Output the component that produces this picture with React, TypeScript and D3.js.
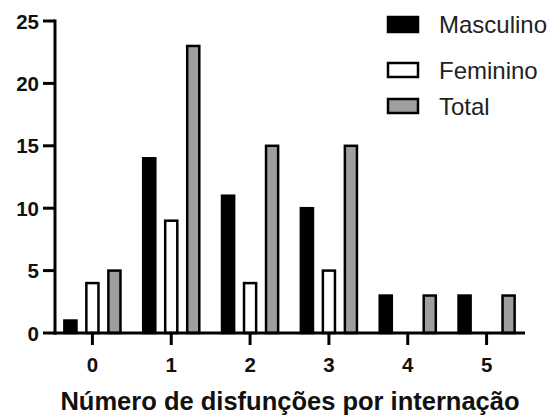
import React from "react";
import * as d3 from "d3";

const categories = ["0", "1", "2", "3", "4", "5"];
const seriesNames = ["Masculino", "Feminino", "Total"];
const masculino = [1, 14, 11, 10, 3, 3];
const feminino = [4, 9, 4, 5, 0, 0];
const total = [5, 23, 15, 15, 3, 3];
const yTicks = [0, 5, 10, 15, 20, 25];
const xTitle = "Número de disfunções por internação";

const fills = ["#000000", "#ffffff", "#9e9e9e"];
const FONT = "'Liberation Sans', Arial, Helvetica, sans-serif";

export default function App() {
  const W = 553;
  const H = 417;
  const axisX = 55;
  const axisEnd = 525;
  const x = d3.scaleBand<string>().domain(categories).range([53, 526]).paddingInner(0).paddingOuter(0);
  const y = d3.scaleLinear().domain([0, 25]).range([333, 21]);
  const seriesData = [masculino, feminino, total];

  const groupHalf = 33;
  const legendRows = [
    { y: 17, h: 15 },
    { y: 63, h: 14 },
    { y: 99, h: 14 },
  ];

  return (
    <svg width={W} height={H} style={{ position: "absolute", left: 0, top: 0, background: "#fff" }}>
      {/* bars */}
      {categories.map((c, ci) => {
        const center = (x(c) as number) + x.bandwidth() / 2;
        const inner = d3
          .scaleBand<string>()
          .domain(seriesNames)
          .range([center - groupHalf, center + groupHalf])
          .paddingInner(0.45)
          .paddingOuter(0.225);
        return seriesNames.map((s, si) => {
          const v = seriesData[si][ci];
          if (v <= 0) return null;
          const bx = inner(s) as number;
          return (
            <rect
              key={c + s}
              x={bx}
              y={y(v)}
              width={inner.bandwidth()}
              height={y(0) - y(v)}
              fill={fills[si]}
              stroke="#000"
              strokeWidth={2.5}
            />
          );
        });
      })}

      {/* y axis */}
      <line x1={axisX} x2={axisX} y1={y(25) - 1.5} y2={y(0) + 1.5} stroke="#000" strokeWidth={3} />
      {yTicks.map((t) => (
        <g key={t}>
          <line x1={axisX - 12} x2={axisX} y1={y(t)} y2={y(t)} stroke="#000" strokeWidth={3} />
          <text
            x={39}
            y={y(t)}
            textAnchor="end"
            dominantBaseline="central"
            fontFamily={FONT}
            fontWeight="bold"
            fontSize={20.5}
            fill="#111"
          >
            {t}
          </text>
        </g>
      ))}

      {/* x axis */}
      <line x1={axisX - 1.5} x2={axisEnd} y1={y(0)} y2={y(0)} stroke="#000" strokeWidth={3} />
      {categories.map((c) => {
        const cx = (x(c) as number) + x.bandwidth() / 2;
        return (
          <g key={c}>
            <line x1={cx} x2={cx} y1={y(0)} y2={y(0) + 12} stroke="#000" strokeWidth={3} />
            <text
              x={cx}
              y={372}
              textAnchor="middle"
              fontFamily={FONT}
              fontWeight="bold"
              fontSize={20.5}
              fill="#111"
            >
              {c}
            </text>
          </g>
        );
      })}

      <text
        x={290}
        y={410}
        textAnchor="middle"
        fontFamily={FONT}
        fontWeight="bold"
        fontSize={25.5}
        fill="#111"
      >
        {xTitle}
      </text>

      {/* legend */}
      {seriesNames.map((s, i) => (
        <g key={s}>
          <rect
            x={388}
            y={legendRows[i].y}
            width={30}
            height={legendRows[i].h}
            fill={fills[i]}
            stroke="#000"
            strokeWidth={2.5}
          />
          <text
            x={439}
            y={legendRows[i].y + legendRows[i].h / 2}
            dominantBaseline="central"
            fontFamily={FONT}
            fontSize={24}
            fill="#222"
          >
            {s}
          </text>
        </g>
      ))}
    </svg>
  );
}
